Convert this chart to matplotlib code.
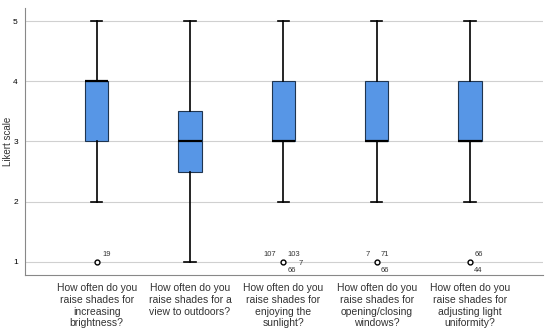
import matplotlib.pyplot as plt

plt.rcParams['font.family'] = ['Liberation Sans', 'DejaVu Sans']

labels = [
    'How often do you\nraise shades for\nincreasing\nbrightness?',
    'How often do you\nraise shades for a\nview to outdoors?',
    'How often do you\nraise shades for\nenjoying the\nsunlight?',
    'How often do you\nraise shades for\nopening/closing\nwindows?',
    'How often do you\nraise shades for\nadjusting light\nuniformity?',
]
q1 = [3, 2.5, 3, 3, 3]
med = [4, 3, 3, 3, 3]
q3 = [4, 3.5, 4, 4, 4]
whislo = [2, 1, 2, 2, 2]
whishi = [5, 5, 5, 5, 5]
fliers = [[1], [], [1], [1], [1]]
# outlier case numbers: (text, dx, dy) offsets in points
flier_ids = [
    [('19', 4, 5)],
    [],
    [('107', -14, 5), ('103', 3, 5), ('7', 11, -1.5), ('66', 3, -6)],
    [('7', -8, 5), ('71', 3, 5), ('66', 3, -6)],
    [('66', 3, 5), ('44', 3, -6)],
]

stats = []
for i in range(5):
    stats.append({'q1': q1[i], 'med': med[i], 'q3': q3[i],
                  'whislo': whislo[i], 'whishi': whishi[i],
                  'fliers': fliers[i], 'label': labels[i]})

fig = plt.figure(figsize=(5.5, 3.29), dpi=100)
ax = fig.add_axes([0.045, 0.164, 0.942, 0.812])

pos = [1, 2, 3, 4, 5]
ax.bxp(stats, positions=pos, widths=0.25, patch_artist=True,
       boxprops=dict(facecolor='#5796e6', edgecolor='#1f3550', linewidth=0.8),
       medianprops=dict(color='black', linewidth=1.6),
       whiskerprops=dict(color='black', linewidth=1.2),
       capprops=dict(color='black', linewidth=1.2),
       capwidths=0.12,
       flierprops=dict(marker='o', markersize=3.5, markerfacecolor='white',
                       markeredgecolor='black', markeredgewidth=1))

for i in range(5):
    for t, dx, dy in flier_ids[i]:
        ax.annotate(t, (pos[i], 1), xytext=(dx, dy), textcoords='offset points',
                    fontsize=5.5, color='#333333', ha='left', va='center')

ax.set_xlim(0.23, 5.78)
ax.set_ylim(0.78, 5.22)
ax.set_yticks([1, 2, 3, 4, 5])
ax.yaxis.grid(True, color='#d0d0d0', linewidth=0.8)
ax.set_axisbelow(True)
ax.spines['top'].set_visible(False)
ax.spines['right'].set_visible(False)
ax.spines['left'].set_color('#888888')
ax.spines['bottom'].set_color('#888888')
ax.tick_params(axis='y', length=0, labelsize=6, pad=5)
ax.tick_params(axis='x', length=0, labelsize=7.5, labelcolor='#333333', pad=6)
ax.set_ylabel('Likert scale', fontsize=7, color='#333333')
ax.yaxis.set_label_coords(-0.023, 0.5)

fig.savefig('out.png', dpi=100)
